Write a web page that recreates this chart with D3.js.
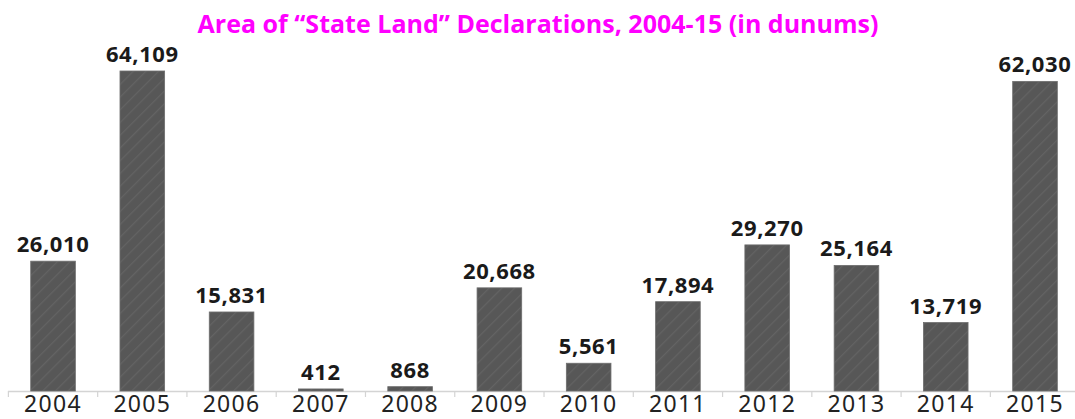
<!DOCTYPE html>
<html>
<head>
<meta charset="utf-8">
<script src="https://cdn.jsdelivr.net/npm/d3@7"></script>
<style>
  body { margin: 0; background: #fff; }
  .title { font-family: "Open Sans", sans-serif; font-weight: 700; fill: #ff00ff; }
  .value { font-family: "Noto Sans", sans-serif; font-weight: 700; fill: #1a1a1a; font-size: 22px; }
  .year { font-family: "Noto Sans", sans-serif; fill: #222; font-size: 23px; }
</style>
</head>
<body>
<div id="chart"></div>
<script>
// data
const years = ['2004', '2005', '2006', '2007', '2008', '2009', '2010', '2011', '2012', '2013', '2014', '2015'];
const dunums = [26010, 64109, 15831, 412, 868, 20668, 5561, 17894, 29270, 25164, 13719, 62030];
const titleText = 'Area of \u201cState Land\u201d Declarations, 2004-15 (in dunums)';

let width = 1075,
    height = 419,
    baseline = 391;

const data = years.map((y, i) => ({year: y, value: dunums[i]}));

let svg = d3.select('#chart')
    .append('svg')
    .attr('width', width)
    .attr('height', height);

// x scale: bands, half bar gaps
let xScale = d3.scaleBand()
    .domain(years)
    .range([8.4, 8.4 + 12 * 89.27])
    .paddingInner(0.5)
    .paddingOuter(0.25);

// y scale
let yScale = d3.scaleLinear()
    .domain([0, 64109])
    .range([baseline, 71]);

// hatched fill
let defs = svg.append('defs');
let pat = defs.append('pattern')
    .attr('id', 'hatch')
    .attr('patternUnits', 'userSpaceOnUse')
    .attr('width', 9)
    .attr('height', 9)
    .attr('patternTransform', 'rotate(-45)');
pat.append('rect').attr('width', 9).attr('height', 9).attr('fill', '#575757');
pat.append('rect').attr('width', 9).attr('height', 1.2).attr('fill', '#636363');

// title
svg.append('text')
    .classed('title', true)
    .attr('x', 538)
    .attr('y', 33)
    .attr('text-anchor', 'middle')
    .attr('font-size', 25)
    .attr('textLength', 681)
    .attr('lengthAdjust', 'spacingAndGlyphs')
    .text(titleText);

// axis line
svg.append('line')
    .attr('x1', 8)
    .attr('x2', width)
    .attr('y1', baseline + 0.5)
    .attr('y2', baseline + 0.5)
    .attr('stroke', '#d4d4d4')
    .attr('stroke-width', 1.5);

// ticks at band boundaries
let half = xScale.step() * xScale.paddingInner() / 2;
svg.selectAll('.tick')
    .data(years).enter()
    .append('line')
    .attr('x1', d => xScale(d) - half)
    .attr('x2', d => xScale(d) - half)
    .attr('y1', baseline)
    .attr('y2', baseline + 6)
    .attr('stroke', '#d4d4d4')
    .attr('stroke-width', 1.2);

// bars
svg.selectAll('.bar')
    .data(data).enter()
    .append('rect')
    .attr('x', d => xScale(d.year))
    .attr('y', d => yScale(d.value))
    .attr('width', xScale.bandwidth())
    .attr('height', d => Math.max(2, baseline - yScale(d.value)))
    .attr('fill', 'url(#hatch)')
    .attr('stroke', '#6e6e6e')
    .attr('stroke-width', 0.8);

// value labels
svg.selectAll('.value')
    .data(data).enter()
    .append('text')
    .classed('value', true)
    .attr('x', d => xScale(d.year) + xScale.bandwidth() / 2)
    .attr('y', d => Math.min(yScale(d.value), baseline - 2) - 9)
    .attr('text-anchor', 'middle')
    .attr('letter-spacing', 0.6)
    .text(d => d3.format(',')(d.value));

// year labels
svg.selectAll('.year')
    .data(years).enter()
    .append('text')
    .classed('year', true)
    .attr('x', d => xScale(d) + xScale.bandwidth() / 2)
    .attr('y', 412)
    .attr('text-anchor', 'middle')
    .attr('letter-spacing', 1.3)
    .text(d => d);
</script>
</body>
</html>
